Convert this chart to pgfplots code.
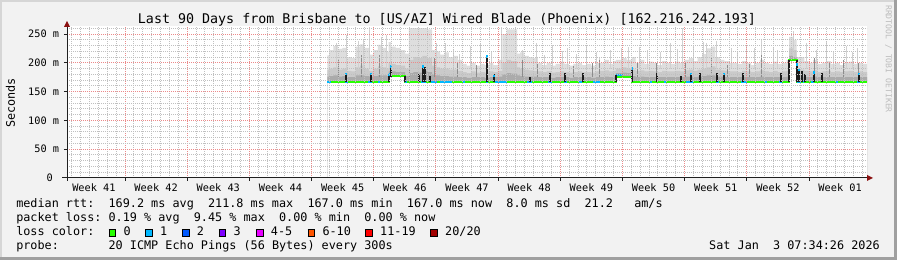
\documentclass[border=0pt]{standalone}
\usepackage{fontspec}
\setmainfont{DejaVu Sans Mono}
\usepackage{pgfplots}
\usepackage{pgfplotstable}
\pgfplotsset{compat=1.18}
\frenchspacing
\definecolor{bg}{HTML}{F2F2F2}
\definecolor{shadeA}{HTML}{D6D6D6}
\definecolor{shadeB}{HTML}{A0A0A0}
\definecolor{mgrid}{HTML}{EC8A8A}
\definecolor{ngrid}{HTML}{C0C0C0}
\definecolor{arrowc}{HTML}{8B1010}
\definecolor{axisc}{HTML}{202020}
\definecolor{smokeA}{HTML}{DEDEDE}
\definecolor{smokeB}{HTML}{CACACA}
\definecolor{smokeC}{HTML}{ABABAB}
\definecolor{spkL}{HTML}{D0D0D0}
\definecolor{spkD}{HTML}{8C8C8C}
\definecolor{spkK}{HTML}{1C1C1C}
\definecolor{loss0}{HTML}{26FF00}
\definecolor{loss1}{HTML}{00B8FF}
\definecolor{loss2}{HTML}{0059FF}
\definecolor{loss3}{HTML}{7E00FF}
\definecolor{loss4}{HTML}{E800FF}
\definecolor{loss6}{HTML}{FF5500}
\definecolor{loss11}{HTML}{FF0000}
\definecolor{loss20}{HTML}{A10000}
\definecolor{wm}{HTML}{BDBDBD}
\newcommand\titlefont{\fontsize{10}{12}\selectfont}
\newcommand\legfont{\fontsize{8.85}{10}\selectfont}
\newcommand\axfont{\fontsize{7.7}{9}\selectfont}
\newcommand\wmfont{\fontsize{6.1}{7}\selectfont}
\newcommand\lbox[1]{{\setlength\fboxsep{0pt}\setlength\fboxrule{0.75pt}\fcolorbox{black}{#1}{\rule{0pt}{4.2pt}\rule{4.2pt}{0pt}}}}

% smoke envelope: day, top (max), mid, low, min (smoke base)
\pgfplotstableread{
x top mid low min
29.3 213 188 176 166
29.5 222 190 177 166
30.0 229 192 178 166
30.5 224 188 176 166
31.0 226 190 177 166
31.5 210 186 175 166
32.0 208 185 175 166
32.5 228 192 178 166
33.0 232 195 178 166
33.5 226 190 177 166
34.0 214 186 176 166
34.5 222 190 177 166
35.0 231 194 178 166
35.5 226 192 178 166
36.0 219 190 177 166
36.2 236 200 185 176
36.5 228 198 185 176
37.0 226 196 184 176
37.5 222 195 184 176
38.05 216 190 177 166
38.5 260 205 182 166
39.0 260 210 184 166
39.5 260 208 183 166
40.0 260 212 186 166
40.5 258 208 184 166
41.1 222 195 180 166
41.5 220 192 178 166
42.0 214 190 177 166
42.5 218 190 177 166
43.0 210 188 176 166
43.5 212 188 176 166
44.0 205 186 175 166
44.5 198 184 175 166
45.0 195 182 174 166
45.5 200 185 175 166
46.0 195 183 175 166
46.5 198 184 175 166
47.0 196 183 174 166
47.5 200 185 175 166
48.0 196 184 175 166
48.5 205 186 176 166
49.0 250 200 180 166
49.5 258 205 182 166
50.0 258 203 181 166
50.66 216 192 178 166
51.0 218 190 177 166
51.5 212 188 176 166
52.0 210 187 176 166
52.5 208 186 176 166
53.0 200 185 175 166
53.5 196 184 175 166
54.0 200 185 175 166
54.5 195 183 174 166
55.0 198 184 175 166
55.5 202 185 175 166
56.0 198 184 175 166
56.5 195 183 174 166
57.0 198 184 175 166
57.5 200 185 175 166
58.0 196 184 175 166
58.5 198 184 175 166
59.0 195 183 174 166
59.5 200 185 175 166
60.0 200 186 175 166
60.5 205 187 176 166
61.0 198 185 175 166
61.5 203 186 176 166
61.8 205 190 182 176
62.5 208 192 183 176
63.0 205 190 182 176
63.6 210 188 177 166
64.0 200 186 175 166
64.5 205 187 176 166
65.0 198 185 175 166
65.5 202 186 175 166
66.0 200 185 175 166
66.5 196 184 175 166
67.0 203 186 175 166
67.5 200 185 175 166
68.0 198 185 175 166
68.5 202 186 175 166
69.0 200 185 175 166
69.5 205 187 176 166
70.0 208 188 176 166
70.5 203 186 175 166
71.0 210 188 176 166
71.5 215 190 177 166
72.0 225 192 178 166
72.5 228 194 178 166
73.0 210 188 176 166
73.5 205 187 176 166
74.0 203 186 175 166
74.5 200 185 175 166
75.0 200 185 175 166
75.5 198 184 175 166
76.0 203 186 175 166
76.5 200 185 175 166
77.0 196 184 175 166
77.5 200 185 175 166
78.0 205 187 176 166
78.5 200 185 175 166
79.0 198 184 175 166
79.5 202 186 175 166
80.0 198 184 175 166
80.5 200 185 175 166
81.0 205 186 176 166
81.3 245 225 212 203
81.7 240 222 210 203
82.15 210 190 178 166
82.5 210 188 176 166
83.0 203 186 175 166
83.5 200 185 175 166
84.0 205 187 176 166
84.5 198 184 175 166
85.0 200 185 175 166
85.5 203 186 175 166
86.0 198 184 175 166
86.5 200 185 175 166
87.0 196 184 175 166
87.5 200 185 175 166
88.0 202 186 175 166
88.5 198 184 175 166
89.0 200 185 175 166
89.5 198 184 175 166
90.06 198 184 175 166
}\smoke

\begin{document}
\begin{tikzpicture}[x=0.75pt,y=0.75pt]
\useasboundingbox (0,0) rectangle (897,260);
\fill[bg] (0,0) rectangle (897,260);
\fill[shadeA] (0,0) rectangle (2,260);
\fill[shadeA] (0,258) rectangle (897,260);
\fill[shadeB] (0,0) rectangle (897,3);
\fill[shadeB] (894,0) rectangle (897,260);
\begin{axis}[
  at={(50.25pt,61.5pt)}, anchor=origin, scale only axis,
  width=600pt, height=114pt,
  xmin=0, xmax=90.06, ymin=0, ymax=263.9,
  enlargelimits=false,
  axis background/.style={fill=white},
  axis line style={draw=none},
  axis on top,
  xtick={6.53,13.53,20.53,27.53,34.53,41.53,48.53,55.53,62.53,69.53,76.53,83.53},
  xticklabels={},
  minor xtick={0.53,1.53,...,89.53},
  ytick={0,50,100,150,200,250},
  yticklabels={0~~,50 m,100 m,150 m,200 m,250 m},
  minor ytick={10,20,30,40,60,70,80,90,110,120,130,140,160,170,180,190,210,220,230,240,260},
  xtick pos=bottom, ytick pos=left,
  tick align=outside,
  major tick length=2.25pt, minor tick length=0pt,
  tick style={color=axisc, line width=0.75pt},
  grid=both,
  major grid style={draw=mgrid, dash pattern=on 0.75pt off 0.75pt, line width=0.75pt},
  minor grid style={draw=ngrid, dash pattern=on 0.75pt off 0.75pt, line width=0.75pt},
  tick label style={font=\axfont, inner sep=0pt},
  yticklabel style={anchor=east, xshift=-3.5pt},
  extra x ticks={3.03,10.03,17.03,24.03,31.03,38.03,45.03,52.03,59.03,66.03,73.03,80.03,87.03},
  extra x tick labels={Week 41,Week 42,Week 43,Week 44,Week 45,Week 46,Week 47,Week 48,Week 49,Week 50,Week 51,Week 52,Week 01},
  extra x tick style={grid=none, major tick length=0pt, xticklabel style={anchor=center, yshift=-7.3pt}},
]
% smoke layers
\addplot[const plot, fill=smokeA, draw=none] table[x=x,y=top]{\smoke} \closedcycle;
\addplot[const plot, fill=smokeB, draw=none] table[x=x,y=mid]{\smoke} \closedcycle;
\addplot[const plot, fill=smokeC, draw=none] table[x=x,y=low]{\smoke} \closedcycle;
% light thin smoke spikes
\addplot[spkL, line width=0.75pt, unbounded coords=jump] coordinates {
(30.3,190)(30.3,235)(30.3,nan)
(31.5,190)(31.5,248)(31.5,nan)
(32.8,190)(32.8,238)(32.8,nan)
(33.4,190)(33.4,240)(33.4,nan)
(34.1,190)(34.1,262)(34.1,nan)
(35.4,190)(35.4,245)(35.4,nan)
(36.0,190)(36.0,248)(36.0,nan)
(36.4,190)(36.4,222)(36.4,nan)
(41.6,190)(41.6,234)(41.6,nan)
(42.6,190)(42.6,234)(42.6,nan)
(43.5,190)(43.5,222)(43.5,nan)
(44.2,190)(44.2,215)(44.2,nan)
(45.4,190)(45.4,229)(45.4,nan)
(46.5,190)(46.5,234)(46.5,nan)
(47.8,190)(47.8,218)(47.8,nan)
(48.9,190)(48.9,262)(48.9,nan)
(51.3,190)(51.3,222)(51.3,nan)
(52.9,190)(52.9,234)(52.9,nan)
(53.8,190)(53.8,214)(53.8,nan)
(54.6,190)(54.6,231)(54.6,nan)
(55.8,190)(55.8,220)(55.8,nan)
(56.3,190)(56.3,226)(56.3,nan)
(57.3,190)(57.3,216)(57.3,nan)
(58.5,190)(58.5,229)(58.5,nan)
(59.6,190)(59.6,218)(59.6,nan)
(60.0,190)(60.0,210)(60.0,nan)
(61.2,190)(61.2,222)(61.2,nan)
(62.4,190)(62.4,226)(62.4,nan)
(63.2,190)(63.2,228)(63.2,nan)
(64.5,190)(64.5,227)(64.5,nan)
(65.3,190)(65.3,222)(65.3,nan)
(66.8,190)(66.8,218)(66.8,nan)
(67.9,190)(67.9,234)(67.9,nan)
(68.7,190)(68.7,224)(68.7,nan)
(69.3,190)(69.3,260)(69.3,nan)
(70.5,190)(70.5,229)(70.5,nan)
(71.7,190)(71.7,236)(71.7,nan)
(72.0,190)(72.0,234)(72.0,nan)
(73.1,190)(73.1,237)(73.1,nan)
(74.8,190)(74.8,225)(74.8,nan)
(75.5,190)(75.5,220)(75.5,nan)
(76.5,190)(76.5,229)(76.5,nan)
(77.4,190)(77.4,226)(77.4,nan)
(78.2,190)(78.2,240)(78.2,nan)
(79.5,190)(79.5,225)(79.5,nan)
(80.0,190)(80.0,222)(80.0,nan)
(81.8,190)(81.8,255)(81.8,nan)
(83.3,190)(83.3,234)(83.3,nan)
(84.4,190)(84.4,222)(84.4,nan)
(85.5,190)(85.5,237)(85.5,nan)
(86.3,190)(86.3,220)(86.3,nan)
(87.8,190)(87.8,229)(87.8,nan)
(88.4,190)(88.4,218)(88.4,nan)
(89.0,190)(89.0,226)(89.0,nan)
};
% darker grey smoke lines
\addplot[spkD, line width=0.75pt, unbounded coords=jump] coordinates {
(30.6,175)(30.6,205)(30.6,nan)
(33.2,175)(33.2,213)(33.2,nan)
(35.2,175)(35.2,213)(35.2,nan)
(38.6,175)(38.6,210)(38.6,nan)
(41.4,175)(41.4,209)(41.4,nan)
(44.0,175)(44.0,200)(44.0,nan)
(46.1,175)(46.1,196)(46.1,nan)
(51.3,175)(51.3,205)(51.3,nan)
(53.0,175)(53.0,198)(53.0,nan)
(57.0,175)(57.0,195)(57.0,nan)
(59.2,175)(59.2,200)(59.2,nan)
(60.0,175)(60.0,205)(60.0,nan)
(64.2,175)(64.2,202)(64.2,nan)
(66.4,175)(66.4,200)(66.4,nan)
(69.6,175)(69.6,200)(69.6,nan)
(72.6,175)(72.6,209)(72.6,nan)
(74.3,175)(74.3,196)(74.3,nan)
(76.8,175)(76.8,198)(76.8,nan)
(78.2,175)(78.2,213)(78.2,nan)
(84.1,175)(84.1,209)(84.1,nan)
(85.8,175)(85.8,202)(85.8,nan)
(87.4,175)(87.4,205)(87.4,nan)
(89.1,175)(89.1,200)(89.1,nan)
};
% clear below the smoke
\addplot[const plot, fill=white, draw=none] table[x=x,y=min]{\smoke} \closedcycle;
% median line, loss 0
\addplot[const plot, loss0, line width=1.5pt] coordinates {
(29.3,167.5)(36.2,177)(38.05,167.5)(61.8,176)(63.6,167.5)(81.3,204)(82.15,167.5)(90.06,167.5)};
% median line, loss 1
\addplot[loss1, line width=1.5pt, unbounded coords=jump] coordinates {
(29.3,167.5)(29.7,167.5)(29.7,nan)
(31.3,167.5)(31.6,167.5)(31.6,nan)
(33.9,167.5)(34.3,167.5)(34.3,nan)
(35.0,167.5)(35.2,167.5)(35.2,nan)
(36.2,181)(36.6,181)(36.6,nan)
(38.0,167.5)(38.3,167.5)(38.3,nan)
(39.9,167.5)(40.4,167.5)(40.4,nan)
(41.0,167.5)(41.6,167.5)(41.6,nan)
(42.0,167.5)(43.3,167.5)(43.3,nan)
(44.6,167.5)(44.8,167.5)(44.8,nan)
(47.2,167.5)(47.4,167.5)(47.4,nan)
(48.2,167.5)(49.5,167.5)(49.5,nan)
(51.8,167.5)(52.3,167.5)(52.3,nan)
(54.2,167.5)(54.6,167.5)(54.6,nan)
(56.0,167.5)(56.3,167.5)(56.3,nan)
(57.6,167.5)(58.0,167.5)(58.0,nan)
(59.2,167.5)(60.0,167.5)(60.0,nan)
(61.8,178)(62.6,178)(62.6,nan)
(65.6,167.5)(65.8,167.5)(65.8,nan)
(67.2,167.5)(67.4,167.5)(67.4,nan)
(69.7,167.5)(70.5,167.5)(70.5,nan)
(73.1,167.5)(73.4,167.5)(73.4,nan)
(75.9,167.5)(76.5,167.5)(76.5,nan)
(78.6,167.5)(78.8,167.5)(78.8,nan)
(80.2,167.5)(80.5,167.5)(80.5,nan)
(82.2,167.5)(82.6,167.5)(82.6,nan)
(82.8,167.5)(83.0,167.5)(83.0,nan)
(83.8,167.5)(84.1,167.5)(84.1,nan)
(86.6,167.5)(86.8,167.5)(86.8,nan)
(88.9,167.5)(89.3,167.5)(89.3,nan)
};
% dense dark smoke spikes
\addplot[spkK, line width=1.5pt, unbounded coords=jump] coordinates {
(31.4,166)(31.4,183)(31.4,nan)
(34.2,166)(34.2,182)(34.2,nan)
(36.2,166)(36.2,181)(36.2,nan)
(36.5,176)(36.5,196)(36.5,nan)
(38.05,166)(38.05,177)(38.05,nan)
(39.66,166)(39.66,181)(39.66,nan)
(40.1,166)(40.1,196)(40.1,nan)
(40.35,166)(40.35,193)(40.35,nan)
(40.86,166)(40.86,177)(40.86,nan)
(47.3,166)(47.3,213)(47.3,nan)
(48.1,166)(48.1,181)(48.1,nan)
(52.1,166)(52.1,176)(52.1,nan)
(54.4,166)(54.4,182)(54.4,nan)
(56.1,166)(56.1,182)(56.1,nan)
(58.1,166)(58.1,182)(58.1,nan)
(61.8,166)(61.8,179)(61.8,nan)
(63.6,166)(63.6,193)(63.6,nan)
(66.4,166)(66.4,182)(66.4,nan)
(69.1,166)(69.1,177)(69.1,nan)
(70.3,166)(70.3,183)(70.3,nan)
(71.3,166)(71.3,182)(71.3,nan)
(73.2,166)(73.2,182)(73.2,nan)
(74.0,166)(74.0,182)(74.0,nan)
(76.1,166)(76.1,182)(76.1,nan)
(80.4,166)(80.4,182)(80.4,nan)
(81.3,166)(81.3,204)(81.3,nan)
(82.15,166)(82.15,204)(82.15,nan)
(82.45,166)(82.45,190)(82.45,nan)
(82.7,166)(82.7,185)(82.7,nan)
(83.1,166)(83.1,181)(83.1,nan)
(84.1,166)(84.1,185)(84.1,nan)
(84.95,166)(84.95,182)(84.95,nan)
(89.2,166)(89.2,182)(89.2,nan)
};
% loss-1 medians at the top of spikes
\addplot[loss1, line width=1.5pt, unbounded coords=jump] coordinates {
(31.4,179)(31.4,183)(31.4,nan)
(34.2,178)(34.2,182)(34.2,nan)
(36.2,177)(36.2,181)(36.2,nan)
(36.5,191)(36.5,196)(36.5,nan)
(40.1,191)(40.1,196)(40.1,nan)
(47.3,208)(47.3,213)(47.3,nan)
(48.1,175)(48.1,179)(48.1,nan)
(63.6,188)(63.6,193)(63.6,nan)
(70.3,179)(70.3,183)(70.3,nan)
(74.0,178)(74.0,182)(74.0,nan)
(82.15,195)(82.15,199)(82.15,nan)
(82.45,186)(82.45,190)(82.45,nan)
(84.1,181)(84.1,185)(84.1,nan)
(89.2,178)(89.2,182)(89.2,nan)
};
\end{axis}
% axes with arrows
\draw[axisc, line width=0.75pt] (62,82) -- (867,82);
\draw[axisc, line width=0.75pt] (67,79) -- (67,233);
\fill[arrowc] (867,79) -- (873,82) -- (867,85) -- cycle;
\fill[arrowc] (64,233) -- (67,239) -- (70,233) -- cycle;
% texts
\node[font=\titlefont, anchor=base, inner sep=0pt] at (447,236) {Last 90 Days from Brisbane to [US/AZ] Wired Blade (Phoenix) [162.216.242.193]};
\node[font=\legfont, rotate=90, anchor=center, inner sep=0pt] at (10.5,157) {Seconds};
\node[font=\wmfont, text=wm, rotate=-90, anchor=center, inner sep=0pt] at (888.5,201) {RRDTOOL / TOBI OETIKER};
\node[font=\legfont, anchor=base west, inner sep=0pt] at (16,52.5) {median rtt:~~169.2 ms avg~~211.8 ms max~~167.0 ms min~~167.0 ms now~~8.0 ms sd~~21.2~~~am/s};
\node[font=\legfont, anchor=base west, inner sep=0pt] at (16,38.3) {packet loss: 0.19 \% avg~~9.45 \% max~~0.00 \% min~~0.00 \% now};
\node[font=\legfont, anchor=base west, inner sep=0pt] at (16,24.2) {loss color:};
\node[font=\legfont, anchor=base west, inner sep=0pt] at (108.3,24.2) {\lbox{loss0}\hspace{5.5pt}0};
\node[font=\legfont, anchor=base west, inner sep=0pt] at (145,24.2) {\lbox{loss1}\hspace{5.5pt}1};
\node[font=\legfont, anchor=base west, inner sep=0pt] at (181.7,24.2) {\lbox{loss2}\hspace{5.5pt}2};
\node[font=\legfont, anchor=base west, inner sep=0pt] at (218.3,24.2) {\lbox{loss3}\hspace{5.5pt}3};
\node[font=\legfont, anchor=base west, inner sep=0pt] at (255.7,24.2) {\lbox{loss4}\hspace{5.5pt}4-5};
\node[font=\legfont, anchor=base west, inner sep=0pt] at (307.3,24.2) {\lbox{loss6}\hspace{5.5pt}6-10};
\node[font=\legfont, anchor=base west, inner sep=0pt] at (365,24.2) {\lbox{loss11}\hspace{5.5pt}11-19};
\node[font=\legfont, anchor=base west, inner sep=0pt] at (430,24.2) {\lbox{loss20}\hspace{5.5pt}20/20};
\node[font=\legfont, anchor=base west, inner sep=0pt] at (16,10) {probe:~~~~~~~20 ICMP Echo Pings (56 Bytes) every 300s};
\node[font=\legfont, anchor=base east, inner sep=0pt] at (880,10) {Sat Jan~~3 07:34:26 2026};
\end{tikzpicture}
\end{document}
